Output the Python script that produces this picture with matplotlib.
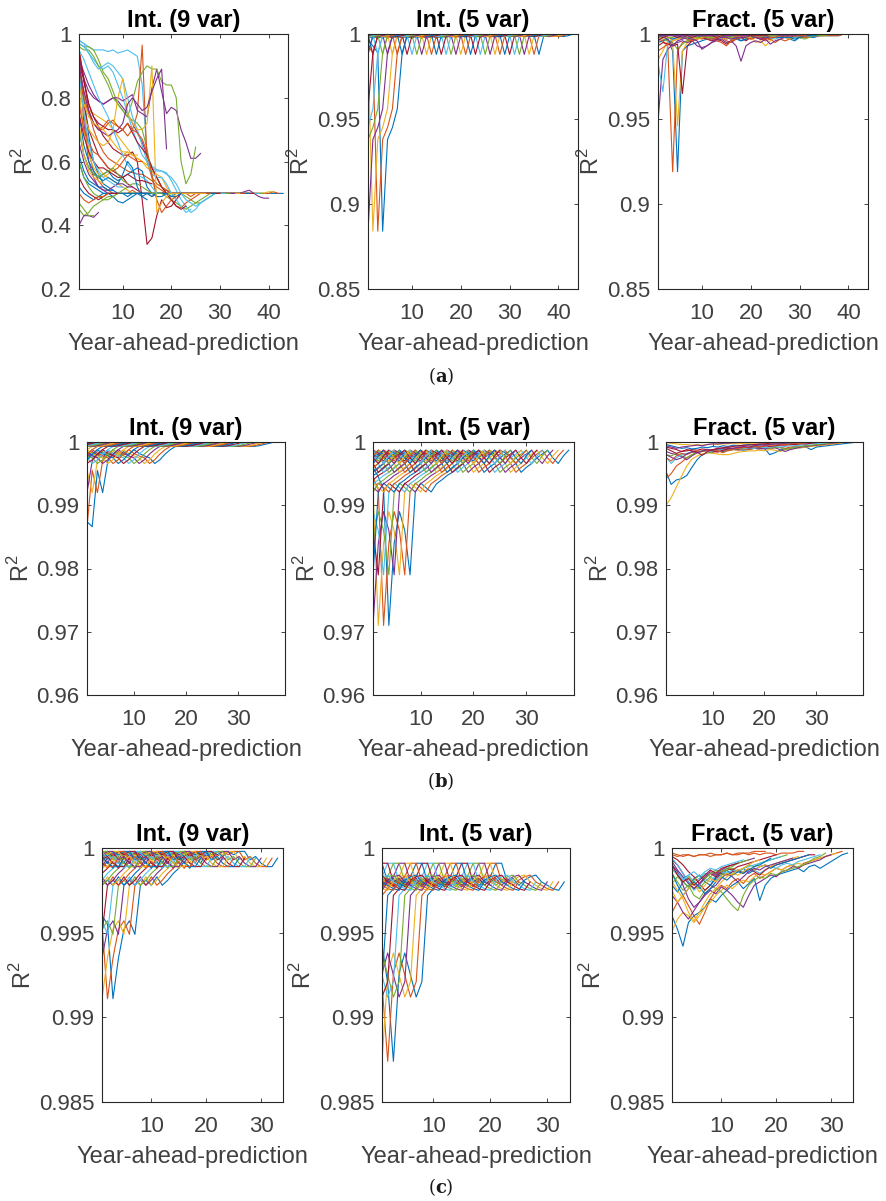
import numpy as np
import matplotlib.pyplot as plt

plt.rcParams['font.family'] = ['Liberation Sans', 'DejaVu Sans']
plt.rcParams['mathtext.fontset'] = 'custom'
plt.rcParams['mathtext.rm'] = 'Liberation Sans'
plt.rcParams['mathtext.bf'] = 'DejaVu Serif:bold'

# MATLAB default colour order, run k uses colour (k-1) % 7
matlab_colors = ['#0072BD', '#D95319', '#EDB120', '#7E2F8E', '#77AC30', '#4DBEEE', '#A2142F']

titles = ['Int. (9 var)', 'Int. (5 var)', 'Fract. (5 var)']
row_tags = ['a', 'b', 'c']

a_xticks = [10, 20, 30, 40]
bc_xticks = [10, 20, 30]
a1_yticks = [0.2, 0.4, 0.6, 0.8, 1]
a1_ylabels = ['0.2', '0.4', '0.6', '0.8', '1']
a23_yticks = [0.85, 0.9, 0.95, 1]
a23_ylabels = ['0.85', '0.9', '0.95', '1']
b_yticks = [0.96, 0.97, 0.98, 0.99, 1]
b_ylabels = ['0.96', '0.97', '0.98', '0.99', '1']
c_yticks = [0.985, 0.99, 0.995, 1]
c_ylabels = ['0.985', '0.99', '0.995', '1']

# ---------- (a) Int. (9 var): run number and R2 per year ahead ----------
a1_ids = [1, 2, 3, 4, 5, 6, 7, 8, 9, 10, 11, 12, 13, 14, 15, 16, 17, 18, 19, 20,
          21, 22, 23, 24, 25, 26, 27, 28, 29, 30, 31, 32, 33, 34, 35, 36, 37, 38, 39, 40]
a1_runs = [
    [0.92, 0.80, 0.68, 0.60, 0.56, 0.53, 0.52, 0.51, 0.50, 0.50,
     0.49, 0.50, 0.50, 0.49, 0.50, 0.50, 0.50, 0.50, 0.50, 0.49,
     0.50, 0.50, 0.50, 0.50, 0.50, 0.50, 0.50, 0.50, 0.50, 0.50,
     0.50, 0.50, 0.50, 0.50, 0.50, 0.50, 0.50, 0.50, 0.50, 0.50,
     0.50, 0.50, 0.50],
    [0.90, 0.75, 0.63, 0.57, 0.54, 0.52, 0.51, 0.50, 0.50, 0.50,
     0.50, 0.51, 0.50, 0.50, 0.50, 0.49, 0.50, 0.50, 0.51, 0.50,
     0.50, 0.50, 0.50, 0.49, 0.50, 0.50, 0.50, 0.50, 0.50, 0.50,
     0.50, 0.50, 0.50, 0.50, 0.50, 0.50, 0.50, 0.50, 0.50, 0.50,
     0.505, 0.50],
    [0.80, 0.70, 0.64, 0.60, 0.58, 0.56, 0.55, 0.54, 0.53, 0.52,
     0.51, 0.50, 0.50, 0.50, 0.50, 0.50, 0.50, 0.50, 0.50, 0.50,
     0.49, 0.50, 0.50, 0.50, 0.50, 0.50, 0.50, 0.50, 0.50, 0.50,
     0.50, 0.50, 0.50, 0.50, 0.50, 0.50, 0.50, 0.50, 0.50, 0.505,
     0.505],
    [0.93, 0.72, 0.60, 0.55, 0.52, 0.51, 0.50, 0.50, 0.50, 0.50,
     0.50, 0.50, 0.50, 0.50, 0.50, 0.50, 0.50, 0.50, 0.50, 0.50,
     0.50, 0.50, 0.50, 0.50, 0.50, 0.50, 0.50, 0.50, 0.50, 0.50,
     0.50, 0.50, 0.50, 0.50, 0.505, 0.51, 0.50, 0.49, 0.485, 0.485],
    [0.45, 0.43, 0.44, 0.46, 0.47, 0.48, 0.49, 0.49, 0.50, 0.50,
     0.50, 0.50, 0.50, 0.50, 0.50, 0.50, 0.50, 0.50, 0.50, 0.50,
     0.50, 0.50, 0.49, 0.48, 0.47, 0.47, 0.48, 0.49, 0.50, 0.50,
     0.50, 0.50, 0.50, 0.50, 0.50, 0.50, 0.50, 0.50, 0.50],
    [0.98, 0.97, 0.96, 0.95, 0.95, 0.95, 0.945, 0.95, 0.94, 0.945,
     0.95, 0.94, 0.93, 0.84, 0.62, 0.585, 0.575, 0.57, 0.565, 0.54,
     0.51, 0.48, 0.46, 0.44, 0.45, 0.47, 0.48, 0.49, 0.50, 0.50,
     0.50, 0.50, 0.50, 0.50, 0.50, 0.50, 0.50, 0.50],
    [0.91, 0.78, 0.70, 0.66, 0.62, 0.60, 0.58, 0.57, 0.56, 0.55,
     0.53, 0.52, 0.51, 0.50, 0.50, 0.50, 0.50, 0.50, 0.50, 0.50,
     0.50, 0.50, 0.50, 0.50, 0.50, 0.50, 0.50, 0.50, 0.50, 0.50,
     0.50, 0.50, 0.50, 0.50, 0.50, 0.50, 0.50],
    [0.60, 0.55, 0.53, 0.52, 0.51, 0.50, 0.50, 0.49, 0.475, 0.47,
     0.48, 0.49, 0.50, 0.50, 0.50, 0.50, 0.50, 0.50, 0.50, 0.50,
     0.50, 0.50, 0.50, 0.50, 0.50, 0.50, 0.50, 0.50, 0.50, 0.50,
     0.50, 0.50, 0.50, 0.50, 0.50, 0.50],
    [0.95, 0.86, 0.76, 0.70, 0.66, 0.63, 0.61, 0.60, 0.59, 0.58,
     0.57, 0.565, 0.56, 0.56, 0.55, 0.54, 0.52, 0.51, 0.50, 0.48,
     0.46, 0.455, 0.47, 0.48, 0.49, 0.50, 0.50, 0.50, 0.50, 0.50,
     0.50, 0.50, 0.50, 0.50, 0.50],
    [0.80, 0.78, 0.76, 0.75, 0.74, 0.73, 0.72, 0.70, 0.68, 0.66,
     0.64, 0.62, 0.61, 0.60, 0.58, 0.57, 0.56, 0.55, 0.52, 0.50,
     0.50, 0.50, 0.50, 0.50, 0.50, 0.50, 0.50, 0.50, 0.50, 0.50,
     0.50, 0.50, 0.50, 0.50],
    [0.90, 0.86, 0.82, 0.80, 0.79, 0.78, 0.79, 0.80, 0.79, 0.77,
     0.75, 0.72, 0.69, 0.66, 0.62, 0.58, 0.55, 0.52, 0.51, 0.50,
     0.50, 0.50, 0.50, 0.50, 0.50, 0.50, 0.50, 0.50, 0.50, 0.50,
     0.50, 0.50, 0.50],
    [0.97, 0.96, 0.96, 0.95, 0.92, 0.88, 0.86, 0.82, 0.78, 0.76,
     0.74, 0.73, 0.72, 0.70, 0.64, 0.55, 0.50, 0.50, 0.49, 0.48,
     0.47, 0.46, 0.45, 0.46, 0.47, 0.48, 0.49, 0.50, 0.50, 0.50,
     0.50, 0.50],
    [0.98, 0.97, 0.94, 0.92, 0.90, 0.89, 0.90, 0.88, 0.84, 0.80,
     0.75, 0.70, 0.66, 0.62, 0.60, 0.58, 0.57, 0.57, 0.56, 0.55,
     0.53, 0.50, 0.48, 0.47, 0.46, 0.47, 0.48, 0.49, 0.50, 0.50,
     0.50],
    [0.93, 0.85, 0.78, 0.74, 0.71, 0.68, 0.66, 0.64, 0.63, 0.62,
     0.62, 0.63, 0.60, 0.48, 0.34, 0.36, 0.43, 0.48, 0.455, 0.46,
     0.48, 0.50, 0.50, 0.50, 0.50, 0.50, 0.50, 0.50, 0.50, 0.50],
    [0.52, 0.50, 0.49, 0.48, 0.49, 0.50, 0.50, 0.50, 0.50, 0.50,
     0.50, 0.50, 0.50, 0.50, 0.50, 0.49, 0.50, 0.50, 0.50, 0.50,
     0.50, 0.50, 0.50, 0.50, 0.50, 0.50, 0.50, 0.50, 0.50],
    [0.88, 0.80, 0.75, 0.72, 0.70, 0.71, 0.73, 0.72, 0.71, 0.70,
     0.68, 0.70, 0.75, 0.965, 0.60, 0.55, 0.53, 0.52, 0.51, 0.50,
     0.50, 0.50, 0.50, 0.50, 0.50, 0.50, 0.50, 0.50],
    [0.82, 0.70, 0.62, 0.58, 0.56, 0.55, 0.56, 0.58, 0.60, 0.62,
     0.63, 0.62, 0.61, 0.60, 0.59, 0.57, 0.55, 0.52, 0.50, 0.50,
     0.50, 0.50, 0.50, 0.50, 0.50, 0.50, 0.50],
    [0.92, 0.88, 0.84, 0.81, 0.79, 0.78, 0.79, 0.80, 0.80, 0.79,
     0.80, 0.81, 0.76, 0.75, 0.74, 0.83, 0.89, 0.82, 0.75, 0.77,
     0.76, 0.70, 0.66, 0.61, 0.61, 0.625],
    [0.96, 0.95, 0.95, 0.93, 0.90, 0.87, 0.84, 0.80, 0.78, 0.76,
     0.74, 0.79, 0.85, 0.88, 0.90, 0.89, 0.89, 0.85, 0.84, 0.84,
     0.80, 0.60, 0.53, 0.56, 0.645],
    [0.97, 0.96, 0.94, 0.91, 0.89, 0.90, 0.91, 0.90, 0.88, 0.86,
     0.80, 0.74, 0.70, 0.65, 0.60, 0.56, 0.55, 0.55, 0.53, 0.50,
     0.48, 0.46, 0.44, 0.45],
    [0.95, 0.86, 0.78, 0.74, 0.72, 0.71, 0.70, 0.70, 0.69, 0.70,
     0.72, 0.69, 0.66, 0.64, 0.62, 0.58, 0.55, 0.52, 0.50, 0.48,
     0.46, 0.45, 0.46],
    [0.75, 0.65, 0.60, 0.57, 0.55, 0.56, 0.57, 0.55, 0.54, 0.55,
     0.56, 0.57, 0.58, 0.57, 0.52, 0.50, 0.49, 0.49, 0.50, 0.49,
     0.49, 0.50],
    [0.90, 0.82, 0.76, 0.72, 0.70, 0.70, 0.72, 0.73, 0.71, 0.70,
     0.72, 0.70, 0.69, 0.67, 0.63, 0.56, 0.48, 0.44, 0.46, 0.48,
     0.49],
    [0.85, 0.75, 0.70, 0.68, 0.66, 0.65, 0.66, 0.70, 0.80, 0.86,
     0.75, 0.72, 0.70, 0.70, 0.72, 0.90, 0.44, 0.47, 0.49, 0.50],
    [0.90, 0.82, 0.76, 0.72, 0.70, 0.69, 0.68, 0.69, 0.70, 0.72,
     0.78, 0.80, 0.78, 0.76, 0.77, 0.82, 0.86, 0.89, 0.64],
    [0.60, 0.55, 0.52, 0.50, 0.49, 0.48, 0.48, 0.49, 0.50, 0.51,
     0.52, 0.53, 0.53, 0.52, 0.51, 0.50, 0.50, 0.50],
    [0.95, 0.92, 0.88, 0.84, 0.80, 0.77, 0.74, 0.70, 0.66, 0.62,
     0.59, 0.57, 0.56, 0.55, 0.54, 0.52, 0.50],
    [0.75, 0.68, 0.63, 0.60, 0.58, 0.58, 0.57, 0.56, 0.55, 0.55,
     0.56, 0.55, 0.54, 0.54, 0.535, 0.53],
    [0.70, 0.62, 0.58, 0.56, 0.55, 0.54, 0.55, 0.54, 0.53, 0.56,
     0.60, 0.58, 0.52, 0.49, 0.48],
    [0.78, 0.70, 0.66, 0.63, 0.62, 0.60, 0.58, 0.57, 0.58, 0.60,
     0.62, 0.61, 0.60, 0.60],
    [0.85, 0.78, 0.74, 0.72, 0.71, 0.70, 0.68, 0.66, 0.64, 0.63,
     0.63, 0.62, 0.62],
    [0.66, 0.60, 0.56, 0.54, 0.52, 0.51, 0.51, 0.52, 0.53, 0.53,
     0.52, 0.52],
    [0.70, 0.62, 0.58, 0.56, 0.55, 0.56, 0.57, 0.58, 0.56, 0.54, 0.53],
    [0.88, 0.75, 0.66, 0.60, 0.57, 0.55, 0.54, 0.53, 0.52, 0.52],
    [0.55, 0.52, 0.50, 0.49, 0.48, 0.49, 0.50, 0.50, 0.50],
    [0.62, 0.57, 0.54, 0.53, 0.52, 0.52, 0.51, 0.51],
    [0.50, 0.48, 0.47, 0.48, 0.49, 0.49, 0.50],
    [0.72, 0.62, 0.57, 0.55, 0.54, 0.53],
    [0.40, 0.43, 0.43, 0.425, 0.44],
    [0.47, 0.45, 0.43, 0.43],
]

# ---------- Int. panels: every run is the same record, started one year later ----------
a2_record = [0.996, 0.993, 0.989, 0.884, 0.938, 0.945, 0.956, 0.989, 0.999, 0.998,
             0.9995, 0.999, 0.998, 0.9995, 0.999, 0.9975, 0.9995, 1.0, 0.999, 0.998,
             0.9995, 1.0, 0.999, 0.9985, 0.9995, 1.0, 0.999, 0.998, 0.9995, 0.999,
             1.0, 0.999, 0.9985, 0.999, 0.9995, 0.988, 0.999, 0.999, 0.999, 0.999,
             0.9985, 0.999, 1.0]
b1_record = [0.9874, 0.9866, 0.9955, 0.9920, 0.9970, 0.9980, 0.9975, 0.9985, 0.9979, 0.9988,
             0.9982, 0.9978, 0.9975, 0.9966, 0.9972, 0.9981, 0.9988, 0.9993, 0.9997, 0.9993,
             0.9999, 0.9995, 0.9993, 0.9998, 0.9994, 0.9996, 0.9993, 0.9999, 0.9995, 0.9993,
             0.9994, 0.9993, 0.9993, 0.9994, 0.9996, 0.9998, 1.0, 1.0]
b2_record = [0.9960, 0.9945, 0.9925, 0.9710, 0.9840, 0.9890, 0.9860, 0.9790, 0.9921, 0.9935,
             0.9928, 0.9921, 0.9934, 0.9940, 0.9947, 0.9952, 0.9958, 0.9966, 0.9975, 0.9970,
             0.9982, 0.9976, 0.9987, 0.9980, 0.9987, 0.9983, 0.9977, 0.9966, 0.9952, 0.9960,
             0.9966, 0.9975, 0.9981, 0.9987, 0.9975, 0.9966, 0.9978, 0.9987]
c1_record = [0.9960, 0.9955, 0.9911, 0.9935, 0.9952, 0.9957, 0.9949, 0.9978, 0.9981, 0.9978,
             0.9983, 0.9978, 0.9981, 0.9985, 0.9988, 0.9992, 0.9988, 0.9995, 0.9991, 0.9997,
             0.9993, 0.9998, 0.9995, 0.9998, 0.9996, 0.9998, 0.9998, 0.9993, 0.9995, 0.9991,
             0.9989, 0.9989, 0.9994]
c2_record = [0.9943, 0.9920, 0.9874, 0.9926, 0.9938, 0.9925, 0.9912, 0.9921, 0.9972, 0.9976,
             0.9980, 0.9978, 0.9981, 0.9979, 0.9982, 0.9978, 0.9980, 0.9977, 0.9981, 0.9983,
             0.9991, 0.9991, 0.9980, 0.9982, 0.9978, 0.9981, 0.9983, 0.9984, 0.9980, 0.9978,
             0.9976, 0.9975, 0.9980]

# ---------- (a) Fract. (5 var) ----------
a3_ids = [1, 2, 3, 4, 5, 6, 7, 8, 9, 10, 11, 12, 14, 18, 25]
a3_runs = [
    [0.995, 0.996, 0.997, 0.990, 0.919, 0.990, 0.993, 0.994, 0.995, 0.996,
     0.997, 0.997, 0.998, 0.998, 0.997, 0.998, 0.998, 0.996, 0.997, 0.998,
     0.998, 0.998, 0.998, 0.997, 0.998, 0.998, 0.998, 0.997, 0.996, 0.998,
     0.998, 0.998, 0.998, 0.999, 0.999, 0.999, 0.999, 0.999, 1.0, 1.0,
     1.0, 1.0, 1.0],
    [0.997, 0.996, 0.993, 0.919, 0.990, 0.995, 0.996, 0.997, 0.998, 0.997,
     0.998, 0.998, 0.997, 0.998, 0.996, 0.995, 0.997, 0.998, 0.998, 0.997,
     0.998, 0.997, 0.996, 0.997, 0.995, 0.997, 0.996, 0.997, 0.998, 0.998,
     0.998, 0.998, 0.999, 0.999, 0.999, 0.999, 0.999, 0.999, 1.0, 1.0,
     1.0, 1.0],
    [0.985, 0.990, 0.996, 0.995, 0.946, 0.990, 0.995, 0.997, 0.998, 0.998,
     0.997, 0.998, 0.999, 0.998, 0.998, 0.997, 0.998, 0.998, 0.997, 0.998,
     0.995, 0.996, 0.993, 0.996, 0.998, 0.998, 0.998, 0.997, 0.998, 0.999,
     0.999, 0.998, 0.999, 0.999, 0.999, 1.0, 1.0, 1.0, 1.0, 1.0,
     1.0],
    [0.948, 0.985, 0.991, 0.994, 0.995, 0.996, 0.995, 0.996, 0.993, 0.992,
     0.993, 0.995, 0.996, 0.997, 0.995, 0.996, 0.993, 0.984, 0.993, 0.995,
     0.996, 0.995, 0.997, 0.994, 0.996, 0.997, 0.998, 0.998, 0.998, 0.999,
     0.999, 0.999, 0.999, 0.999, 1.0, 1.0, 1.0, 1.0, 1.0, 1.0],
    [0.998, 0.997, 0.996, 0.995, 0.991, 0.994, 0.996, 0.997, 0.998, 0.998,
     0.999, 0.998, 0.998, 0.999, 0.998, 0.997, 0.998, 0.999, 0.998, 0.998,
     0.998, 0.998, 0.999, 0.998, 0.998, 0.998, 0.998, 0.998, 0.998, 0.998,
     0.997, 0.998, 0.999, 0.999, 0.999, 1.0, 1.0, 1.0, 1.0],
    [0.983, 0.966, 0.995, 0.997, 0.998, 0.997, 0.998, 0.998, 0.999, 0.998,
     0.998, 0.997, 0.996, 0.998, 0.998, 0.999, 0.998, 0.997, 0.998, 0.998,
     0.998, 0.999, 0.998, 0.998, 0.997, 0.998, 0.999, 0.999, 0.998, 0.999,
     0.999, 0.999, 0.999, 1.0, 1.0, 1.0, 1.0, 1.0],
    [0.993, 0.995, 0.994, 0.993, 0.994, 0.965, 0.993, 0.996, 0.997, 0.998,
     0.997, 0.996, 0.997, 0.996, 0.994, 0.996, 0.997, 0.998, 0.996, 0.998,
     0.998, 0.997, 0.997, 0.998, 0.998, 0.998, 0.999, 0.998, 0.999, 0.999,
     0.999, 0.999, 1.0, 1.0, 1.0, 1.0, 1.0],
    [0.998, 0.999, 0.998, 0.997, 0.998, 0.998, 0.997, 0.998, 0.999, 0.998,
     0.999, 0.999, 0.998, 0.998, 0.999, 0.998, 0.997, 0.996, 0.997, 0.998,
     0.998, 0.998, 0.998, 0.998, 0.998, 0.998, 0.998, 0.998, 0.997, 0.998,
     0.999, 0.999, 0.999, 1.0, 1.0, 1.0],
    [0.990, 0.992, 0.994, 0.996, 0.997, 0.998, 0.997, 0.996, 0.997, 0.998,
     0.998, 0.997, 0.996, 0.995, 0.993, 0.996, 0.997, 0.998, 0.998, 0.997,
     0.998, 0.998, 0.997, 0.998, 0.998, 0.999, 0.999, 0.999, 0.999, 0.999,
     0.999, 1.0, 1.0, 1.0, 1.0],
    [0.997, 0.998, 0.998, 0.996, 0.997, 0.998, 0.999, 0.998, 0.997, 0.998,
     0.999, 0.998, 0.998, 0.998, 0.997, 0.998, 0.998, 0.999, 0.998, 0.998,
     0.999, 0.999, 0.999, 0.999, 0.999, 0.999, 0.999, 0.999, 0.999, 1.0,
     1.0, 1.0, 1.0, 1.0],
    [0.999, 0.998, 0.997, 0.993, 0.996, 0.997, 0.998, 0.997, 0.996, 0.991,
     0.993, 0.995, 0.997, 0.998, 0.998, 0.997, 0.998, 0.998, 0.998, 0.999,
     0.998, 0.997, 0.998, 0.999, 0.999, 0.999, 0.999, 0.999, 0.999, 1.0,
     1.0, 1.0, 1.0],
    [0.999, 0.999, 0.998, 0.998, 0.999, 0.999, 0.998, 0.999, 0.999, 0.999,
     0.998, 0.998, 0.999, 0.999, 0.999, 0.998, 0.999, 0.999, 0.999, 0.999,
     0.999, 0.999, 0.999, 0.999, 0.999, 1.0, 1.0, 1.0, 1.0, 1.0,
     1.0, 1.0],
    [0.996, 0.998, 0.999, 0.999, 0.998, 0.999, 0.999, 0.998, 0.999, 0.999,
     0.999, 0.999, 0.998, 0.999, 0.999, 0.999, 0.999, 0.999, 0.999, 0.999,
     0.999, 0.999, 0.999, 1.0, 1.0, 1.0, 1.0, 1.0, 1.0, 1.0],
    [0.999, 0.999, 1.0, 0.999, 0.999, 0.998, 0.999, 0.999, 1.0, 0.999,
     0.999, 0.999, 0.999, 1.0, 0.999, 0.999, 1.0, 0.999, 0.999, 1.0,
     1.0, 1.0, 1.0, 1.0, 1.0, 1.0],
    [1.0, 0.999, 0.999, 1.0, 0.999, 0.999, 1.0, 1.0, 0.999, 1.0,
     1.0, 0.999, 1.0, 1.0, 1.0, 1.0, 1.0, 1.0, 1.0],
]

# ---------- (b) Fract. (5 var) ----------
b3_ids = [1, 2, 3, 4, 5, 6, 7, 8, 9, 10, 11, 14, 18]
b3_runs = [
    [0.9953, 0.9933, 0.9940, 0.9942, 0.9947, 0.9960, 0.9972, 0.9980, 0.9983, 0.9984,
     0.9986, 0.9985, 0.9987, 0.9988, 0.9988, 0.9987, 0.9988, 0.9990, 0.9989, 0.9990,
     0.9980, 0.9983, 0.9987, 0.9989, 0.9990, 0.9991, 0.9991, 0.9992, 0.9988, 0.9992,
     0.9993, 0.9994, 0.9995, 0.9996, 0.9997, 0.9998, 0.9999, 1.0],
    [0.9942, 0.9950, 0.9962, 0.9968, 0.9975, 0.9980, 0.9983, 0.9985, 0.9986, 0.9984,
     0.9985, 0.9987, 0.9986, 0.9988, 0.9987, 0.9989, 0.9988, 0.9990, 0.9989, 0.9991,
     0.9990, 0.9991, 0.9992, 0.9990, 0.9992, 0.9993, 0.9993, 0.9994, 0.9994, 0.9995,
     0.9995, 0.9996, 0.9997, 0.9998, 0.9999, 1.0, 1.0],
    [0.9900, 0.9912, 0.9929, 0.9946, 0.9962, 0.9973, 0.9978, 0.9981, 0.9983, 0.9982,
     0.9981, 0.9980, 0.9980, 0.9982, 0.9984, 0.9985, 0.9986, 0.9986, 0.9987, 0.9986,
     0.9988, 0.9987, 0.9985, 0.9988, 0.9989, 0.9990, 0.9991, 0.9992, 0.9993, 0.9994,
     0.9995, 0.9996, 0.9997, 0.9998, 0.9999, 1.0],
    [0.9985, 0.9982, 0.9980, 0.9977, 0.9972, 0.9978, 0.9983, 0.9986, 0.9988, 0.9987,
     0.9989, 0.9988, 0.9990, 0.9989, 0.9990, 0.9991, 0.9990, 0.9991, 0.9990, 0.9989,
     0.9990, 0.9991, 0.9988, 0.9985, 0.9988, 0.9990, 0.9992, 0.9993, 0.9994, 0.9995,
     0.9996, 0.9997, 0.9998, 0.9999, 1.0],
    [0.9980, 0.9978, 0.9982, 0.9978, 0.9975, 0.9980, 0.9984, 0.9986, 0.9988, 0.9987,
     0.9989, 0.9990, 0.9988, 0.9990, 0.9991, 0.9990, 0.9991, 0.9992, 0.9991, 0.9992,
     0.9990, 0.9992, 0.9991, 0.9988, 0.9990, 0.9992, 0.9993, 0.9994, 0.9995, 0.9996,
     0.9997, 0.9998, 0.9999, 1.0],
    [0.9976, 0.9966, 0.9975, 0.9980, 0.9982, 0.9984, 0.9983, 0.9985, 0.9986, 0.9985,
     0.9987, 0.9988, 0.9987, 0.9989, 0.9990, 0.9989, 0.9991, 0.9990, 0.9992, 0.9991,
     0.9992, 0.9993, 0.9992, 0.9993, 0.9994, 0.9994, 0.9995, 0.9996, 0.9997, 0.9998,
     0.9998, 0.9999, 1.0],
    [0.9992, 0.9990, 0.9988, 0.9985, 0.9986, 0.9988, 0.9987, 0.9989, 0.9988, 0.9986,
     0.9984, 0.9987, 0.9989, 0.9990, 0.9991, 0.9992, 0.9991, 0.9993, 0.9992, 0.9994,
     0.9993, 0.9994, 0.9995, 0.9995, 0.9996, 0.9996, 0.9997, 0.9997, 0.9998, 0.9999,
     1.0, 1.0],
    [0.9996, 0.9994, 0.9992, 0.9990, 0.9991, 0.9989, 0.9990, 0.9992, 0.9991, 0.9993,
     0.9992, 0.9994, 0.9993, 0.9995, 0.9994, 0.9995, 0.9996, 0.9995, 0.9996, 0.9997,
     0.9996, 0.9997, 0.9997, 0.9998, 0.9998, 0.9998, 0.9999, 0.9999, 1.0, 1.0,
     1.0],
    [0.9975, 0.9970, 0.9978, 0.9982, 0.9980, 0.9984, 0.9986, 0.9985, 0.9987, 0.9988,
     0.9986, 0.9983, 0.9987, 0.9989, 0.9990, 0.9991, 0.9992, 0.9993, 0.9992, 0.9994,
     0.9995, 0.9995, 0.9996, 0.9996, 0.9997, 0.9998, 0.9998, 0.9999, 1.0, 1.0],
    [0.9999, 0.9998, 0.9997, 0.9996, 0.9996, 0.9995, 0.9996, 0.9995, 0.9996, 0.9997,
     0.9996, 0.9997, 0.9997, 0.9998, 0.9997, 0.9998, 0.9998, 0.9998, 0.9999, 0.9998,
     0.9999, 0.9999, 0.9999, 0.9999, 1.0, 1.0, 1.0, 1.0, 1.0],
    [0.9980, 0.9976, 0.9972, 0.9975, 0.9981, 0.9985, 0.9983, 0.9986, 0.9988, 0.9987,
     0.9989, 0.9990, 0.9991, 0.9990, 0.9992, 0.9993, 0.9992, 0.9994, 0.9995, 0.9995,
     0.9996, 0.9997, 0.9997, 0.9998, 0.9999, 0.9999, 1.0, 1.0],
    [0.9990, 0.9986, 0.9982, 0.9985, 0.9988, 0.9986, 0.9984, 0.9979, 0.9985, 0.9988,
     0.9990, 0.9991, 0.9992, 0.9993, 0.9994, 0.9995, 0.9995, 0.9996, 0.9997, 0.9997,
     0.9998, 0.9999, 0.9999, 1.0, 1.0],
    [0.9994, 0.9992, 0.9990, 0.9992, 0.9993, 0.9994, 0.9995, 0.9994, 0.9996, 0.9997,
     0.9997, 0.9998, 0.9998, 0.9999, 0.9999, 1.0, 1.0, 1.0, 1.0, 1.0, 1.0],
]

# ---------- (c) Fract. (5 var) ----------
c3_ids = [1, 2, 3, 4, 5, 6, 7, 8, 9, 10, 11, 12, 13, 14, 15, 16, 17, 18, 19, 20, 21]
c3_runs = [
    [0.9960, 0.9952, 0.9942, 0.9956, 0.9960, 0.9962, 0.9965, 0.9970, 0.9968, 0.9972,
     0.9975, 0.9978, 0.9980, 0.9976, 0.9979, 0.9982, 0.9969, 0.9978, 0.9982, 0.9984,
     0.9985, 0.9986, 0.9987, 0.9988, 0.9986, 0.9989, 0.9990, 0.9988, 0.9990, 0.9992,
     0.9994, 0.9996, 0.9997],
    [0.9962, 0.9968, 0.9972, 0.9966, 0.9960, 0.9955, 0.9962, 0.9970, 0.9975, 0.9978,
     0.9976, 0.9980, 0.9982, 0.9979, 0.9983, 0.9985, 0.9982, 0.9984, 0.9986, 0.9988,
     0.9987, 0.9989, 0.9990, 0.9988, 0.9991, 0.9992, 0.9993, 0.9994, 0.9995, 0.9996,
     0.9997, 0.9998],
    [0.9951, 0.9958, 0.9962, 0.9960, 0.9956, 0.9960, 0.9965, 0.9968, 0.9972, 0.9975,
     0.9978, 0.9976, 0.9979, 0.9981, 0.9980, 0.9983, 0.9985, 0.9984, 0.9986, 0.9988,
     0.9987, 0.9989, 0.9990, 0.9991, 0.9990, 0.9992, 0.9993, 0.9994, 0.9995, 0.9996,
     0.9997],
    [0.9972, 0.9968, 0.9962, 0.9958, 0.9963, 0.9968, 0.9972, 0.9975, 0.9973, 0.9977,
     0.9975, 0.9972, 0.9968, 0.9965, 0.9972, 0.9978, 0.9980, 0.9982, 0.9984, 0.9983,
     0.9986, 0.9987, 0.9989, 0.9988, 0.9990, 0.9991, 0.9992, 0.9993, 0.9995, 0.9996],
    [0.9985, 0.9980, 0.9975, 0.9978, 0.9972, 0.9970, 0.9975, 0.9978, 0.9976, 0.9974,
     0.9970, 0.9966, 0.9963, 0.9972, 0.9978, 0.9981, 0.9983, 0.9982, 0.9985, 0.9984,
     0.9986, 0.9987, 0.9988, 0.9989, 0.9990, 0.9992, 0.9994, 0.9995, 0.9997],
    [0.9990, 0.9986, 0.9982, 0.9984, 0.9980, 0.9982, 0.9985, 0.9983, 0.9981, 0.9984,
     0.9986, 0.9985, 0.9987, 0.9986, 0.9988, 0.9987, 0.9985, 0.9987, 0.9989, 0.9988,
     0.9990, 0.9991, 0.9990, 0.9992, 0.9993, 0.9994, 0.9995, 0.9996],
    [0.9993, 0.9990, 0.9985, 0.9980, 0.9976, 0.9979, 0.9975, 0.9978, 0.9982, 0.9985,
     0.9984, 0.9986, 0.9987, 0.9985, 0.9988, 0.9986, 0.9984, 0.9987, 0.9989, 0.9990,
     0.9991, 0.9992, 0.9993, 0.9994, 0.9995, 0.9996, 0.9996],
    [0.9978, 0.9974, 0.9980, 0.9977, 0.9982, 0.9984, 0.9980, 0.9978, 0.9983, 0.9985,
     0.9987, 0.9984, 0.9986, 0.9988, 0.9985, 0.9987, 0.9989, 0.9990, 0.9988, 0.9990,
     0.9991, 0.9992, 0.9993, 0.9994, 0.9995, 0.9996],
    [0.9997, 0.9996, 0.9995, 0.9996, 0.9995, 0.9996, 0.9996, 0.9995, 0.9996, 0.9996,
     0.9997, 0.9996, 0.9996, 0.9997, 0.9996, 0.9997, 0.9996, 0.9997, 0.9997, 0.9996,
     0.9997, 0.9997, 0.9997, 0.9998, 0.9998],
    [0.9980, 0.9975, 0.9970, 0.9962, 0.9957, 0.9962, 0.9968, 0.9973, 0.9976, 0.9980,
     0.9983, 0.9985, 0.9984, 0.9986, 0.9988, 0.9987, 0.9989, 0.9990, 0.9989, 0.9991,
     0.9992, 0.9993, 0.9994, 0.9995],
    [0.9990, 0.9986, 0.9978, 0.9970, 0.9965, 0.9968, 0.9973, 0.9976, 0.9978, 0.9982,
     0.9985, 0.9983, 0.9980, 0.9983, 0.9986, 0.9988, 0.9987, 0.9989, 0.9990, 0.9991,
     0.9992, 0.9993, 0.9994],
    [0.9988, 0.9984, 0.9980, 0.9983, 0.9979, 0.9976, 0.9980, 0.9983, 0.9986, 0.9984,
     0.9987, 0.9988, 0.9986, 0.9988, 0.9990, 0.9989, 0.9991, 0.9992, 0.9993, 0.9994,
     0.9995, 0.9996],
    [0.9994, 0.9990, 0.9985, 0.9980, 0.9975, 0.9978, 0.9982, 0.9980, 0.9984, 0.9986,
     0.9985, 0.9987, 0.9986, 0.9988, 0.9989, 0.9990, 0.9991, 0.9992, 0.9993, 0.9994,
     0.9995],
    [0.9995, 0.9993, 0.9990, 0.9986, 0.9983, 0.9979, 0.9982, 0.9985, 0.9983, 0.9986,
     0.9988, 0.9987, 0.9989, 0.9990, 0.9991, 0.9992, 0.9993, 0.9994, 0.9995, 0.9996],
    [0.9985, 0.9978, 0.9972, 0.9976, 0.9980, 0.9977, 0.9973, 0.9976, 0.9980, 0.9983,
     0.9981, 0.9984, 0.9986, 0.9985, 0.9987, 0.9989, 0.9990, 0.9992, 0.9994],
    [0.9996, 0.9995, 0.9996, 0.9996, 0.9995, 0.9996, 0.9996, 0.9997, 0.9996, 0.9996,
     0.9997, 0.9996, 0.9997, 0.9997, 0.9997, 0.9998, 0.9998, 0.9998],
    [0.9975, 0.9968, 0.9972, 0.9976, 0.9979, 0.9974, 0.9978, 0.9982, 0.9980, 0.9983,
     0.9985, 0.9984, 0.9987, 0.9988, 0.9990, 0.9992, 0.9993],
    [0.9992, 0.9987, 0.9983, 0.9979, 0.9976, 0.9979, 0.9983, 0.9986, 0.9984, 0.9987,
     0.9989, 0.9990, 0.9991, 0.9992, 0.9993, 0.9994],
    [0.9979, 0.9983, 0.9980, 0.9977, 0.9981, 0.9984, 0.9982, 0.9985, 0.9987, 0.9986,
     0.9988, 0.9989, 0.9991, 0.9992, 0.9993],
    [0.9987, 0.9985, 0.9981, 0.9984, 0.9986, 0.9983, 0.9986, 0.9988, 0.9987, 0.9989,
     0.9990, 0.9991, 0.9992, 0.9993],
    [0.9990, 0.9984, 0.9980, 0.9982, 0.9978, 0.9981, 0.9984, 0.9987, 0.9985, 0.9988,
     0.9989, 0.9990, 0.9991],
]


def draw_runs(ax, ids, runs):
    for k, vals in sorted(zip(ids, runs), key=lambda p: p[0]):
        ax.plot(np.arange(1, len(vals) + 1), vals,
                color=matlab_colors[(k - 1) % 7], lw=0.8)


def draw_record(ax, record):
    # run k sees the record from its k-th year onwards
    for k in range(1, len(record) + 1):
        vals = record[k - 1:]
        ax.plot(np.arange(1, len(vals) + 1), vals,
                color=matlab_colors[(k - 1) % 7], lw=0.8)


def style(ax, title, xmax, xticks, ylim, yticks, ylabels):
    ax.set_xlim(1, xmax)
    ax.set_ylim(*ylim)
    ax.set_xticks(xticks)
    ax.set_yticks(yticks)
    ax.set_yticklabels(ylabels)
    ax.tick_params(direction='in', top=True, right=True, length=3, width=0.6,
                   color='#262626', labelsize=16, labelcolor='#404040')
    ax.tick_params(axis='x', pad=10)
    ax.tick_params(axis='y', pad=5.5)
    for s in ax.spines.values():
        s.set_color('#262626')
        s.set_linewidth(0.8)
    ax.set_title(title, fontsize=17, fontweight='bold', pad=5)
    ax.set_xlabel('Year-ahead-prediction', fontsize=17, color='#404040', labelpad=6.5)
    ax.set_ylabel(r'R$^\mathregular{2}$', fontsize=17, color='#404040', labelpad=2)


W, H = 887, 1201
fig = plt.figure(figsize=(W / 100, H / 100), dpi=100)


def add_axes(left, right, top, bottom):
    return fig.add_axes([left / W, 1 - bottom / H, (right - left) / W, (bottom - top) / H])


# row (a)
ax = add_axes(79, 288, 34, 289)
draw_runs(ax, a1_ids, a1_runs)
style(ax, titles[0], 44, a_xticks, (0.2, 1), a1_yticks, a1_ylabels)

ax = add_axes(368, 578, 34, 289)
draw_record(ax, a2_record)
style(ax, titles[1], 44, a_xticks, (0.85, 1), a23_yticks, a23_ylabels)

ax = add_axes(658, 868, 34, 289)
draw_runs(ax, a3_ids, a3_runs)
style(ax, titles[2], 44, a_xticks, (0.85, 1), a23_yticks, a23_ylabels)

# row (b)
ax = add_axes(87, 285, 442, 695)
draw_record(ax, b1_record)
style(ax, titles[0], 39, bc_xticks, (0.96, 1), b_yticks, b_ylabels)

ax = add_axes(373, 574, 442, 695)
draw_record(ax, b2_record)
style(ax, titles[1], 39, bc_xticks, (0.96, 1), b_yticks, b_ylabels)

ax = add_axes(666, 863, 442, 695)
draw_runs(ax, b3_ids, b3_runs)
style(ax, titles[2], 39, bc_xticks, (0.96, 1), b_yticks, b_ylabels)

# row (c)
ax = add_axes(102, 283, 848, 1102)
draw_record(ax, c1_record)
style(ax, titles[0], 34, bc_xticks, (0.985, 1), c_yticks, c_ylabels)

ax = add_axes(382, 570, 848, 1102)
draw_record(ax, c2_record)
style(ax, titles[1], 34, bc_xticks, (0.985, 1), c_yticks, c_ylabels)

ax = add_axes(672, 853, 848, 1102)
draw_runs(ax, c3_ids, c3_runs)
style(ax, titles[2], 34, bc_xticks, (0.985, 1), c_yticks, c_ylabels)

# sub-figure tags: plain parentheses, bold letter
for tag, ypix in zip(row_tags, [376, 781, 1187]):
    fig.text(441 / W, 1 - ypix / H, '($\\mathbf{' + tag + '}$)', ha='center', va='center',
             family=['DejaVu Serif'], fontsize=13, color='#1a1a1a')

fig.savefig('out.png', dpi=100)
